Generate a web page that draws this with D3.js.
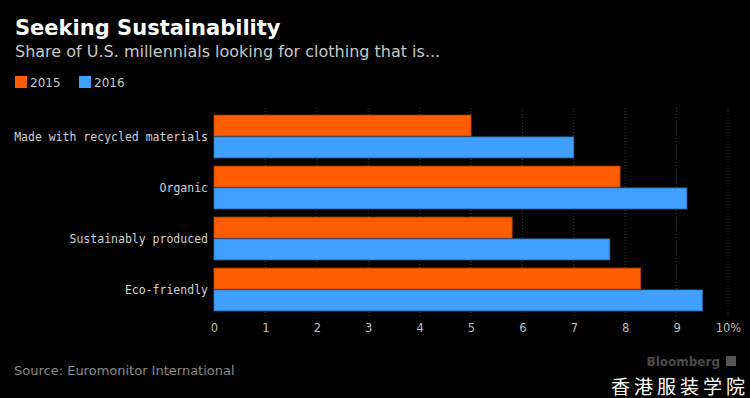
<!DOCTYPE html>
<html>
<head>
<meta charset="utf-8">
<script src="https://cdn.jsdelivr.net/npm/d3@7"></script>
<style>
  html, body { margin: 0; padding: 0; background: #000; }
  svg { display: block; }
</style>
</head>
<body>
<div id="chart"></div>
<script>
const categories = ["Made with recycled materials", "Organic", "Sustainably produced", "Eco-friendly"];
const seriesNames = ["2015", "2016"];
const values2015 = [5.0, 7.9, 5.8, 8.3];
const values2016 = [7.0, 9.2, 7.7, 9.5];
const xTicks = [0, 1, 2, 3, 4, 5, 6, 7, 8, 9, 10];

const colors = { "2015": "#ff5c00", "2016": "#3fa0ff" };
const strokes = { "2015": "#b84000", "2016": "#2a6fb8" };

const width = 750;
const height = 398;
const mono = "'DejaVu Sans Mono', monospace";
const sans = "'DejaVu Sans', sans-serif";

const svg = d3.select('#chart')
  .append('svg')
  .attr('width', width)
  .attr('height', height);

svg.append('rect').attr('width', width).attr('height', height).attr('fill', '#000');

// title block
svg.append('text')
  .attr('x', 15).attr('y', 35)
  .attr('fill', '#fff')
  .style('font', `bold 21px ${sans}`)
  .text('Seeking Sustainability');

svg.append('text')
  .attr('x', 15).attr('y', 57)
  .attr('fill', '#c8c8c8')
  .style('font', `16px ${sans}`)
  .text('Share of U.S. millennials looking for clothing that is...');

// legend
const legend = svg.append('g').attr('class', 'legend');
const legendX = [15, 79];
seriesNames.forEach((name, i) => {
  legend.append('rect')
    .attr('x', legendX[i]).attr('y', 76)
    .attr('width', 12).attr('height', 12)
    .attr('fill', colors[name]);
  legend.append('text')
    .attr('x', legendX[i] + 15).attr('y', 87)
    .attr('fill', '#c8c8c8')
    .style('font', `12px ${sans}`)
    .text(name);
});

// scales
const xScale = d3.scaleLinear().domain([0, 10]).range([214, 728]);
const yScale = d3.scaleBand()
  .domain(categories)
  .range([111, 315])
  .paddingInner(0.16)
  .paddingOuter(0.08);
const ySub = d3.scaleBand()
  .domain(seriesNames)
  .range([0, yScale.bandwidth()])
  .paddingInner(0.04);

// dotted gridlines
svg.append('g')
  .attr('class', 'gridlines')
  .selectAll('line')
  .data(xTicks.slice(1))
  .join('line')
  .attr('x1', (d) => xScale(d))
  .attr('x2', (d) => xScale(d))
  .attr('y1', 108)
  .attr('y2', 316)
  .attr('stroke', '#3a3a3a')
  .attr('stroke-width', 1)
  .attr('stroke-dasharray', '1,2');

// bars
const rows = categories.map((c, i) => ({ category: c, values: [values2015[i], values2016[i]] }));

const groups = svg.append('g')
  .attr('class', 'bars')
  .selectAll('g')
  .data(rows)
  .join('g')
  .attr('transform', (d) => `translate(0, ${yScale(d.category)})`);

groups.selectAll('rect')
  .data((d) => d.values.map((v, i) => ({ series: seriesNames[i], value: v })))
  .join('rect')
  .attr('x', xScale(0))
  .attr('y', (d) => ySub(d.series))
  .attr('width', (d) => xScale(d.value) - xScale(0))
  .attr('height', ySub.bandwidth())
  .attr('fill', (d) => colors[d.series])
  .attr('stroke', (d) => strokes[d.series])
  .attr('stroke-width', 0.8);

// category labels
svg.append('g')
  .selectAll('text')
  .data(categories)
  .join('text')
  .attr('x', 208)
  .attr('y', (d) => yScale(d) + yScale.bandwidth() / 2)
  .attr('dy', '0.35em')
  .attr('text-anchor', 'end')
  .attr('fill', '#d0d0d0')
  .style('font', `11.5px ${mono}`)
  .text((d) => d);

// x axis labels
const xAxis = d3.axisBottom(xScale)
  .tickValues(xTicks)
  .tickSize(0)
  .tickPadding(0)
  .tickFormat((d) => d === 10 ? '10%' : d);

const axisG = svg.append('g')
  .attr('transform', 'translate(0, 324)')
  .call(xAxis);
axisG.select('.domain').remove();
axisG.selectAll('text')
  .attr('fill', '#bdbdbd')
  .style('font', `11.5px ${sans}`);

// footer
svg.append('text')
  .attr('x', 14).attr('y', 375)
  .attr('fill', '#8a8a8a')
  .style('font', `13px ${sans}`)
  .text('Source: Euromonitor International');

svg.append('text')
  .attr('x', 720).attr('y', 366)
  .attr('text-anchor', 'end')
  .attr('fill', '#4a4a4a')
  .style('font', `bold 12px ${sans}`)
  .text('Bloomberg');
svg.append('rect')
  .attr('x', 726).attr('y', 356)
  .attr('width', 10).attr('height', 10)
  .attr('fill', '#555');

svg.append('text')
  .attr('x', 749).attr('y', 394)
  .attr('text-anchor', 'end')
  .attr('fill', '#fff')
  .style('font', `19px 'Noto Sans CJK SC', sans-serif`)
  .style('letter-spacing', '4px')
  .text('香港服装学院');
</script>
</body>
</html>
